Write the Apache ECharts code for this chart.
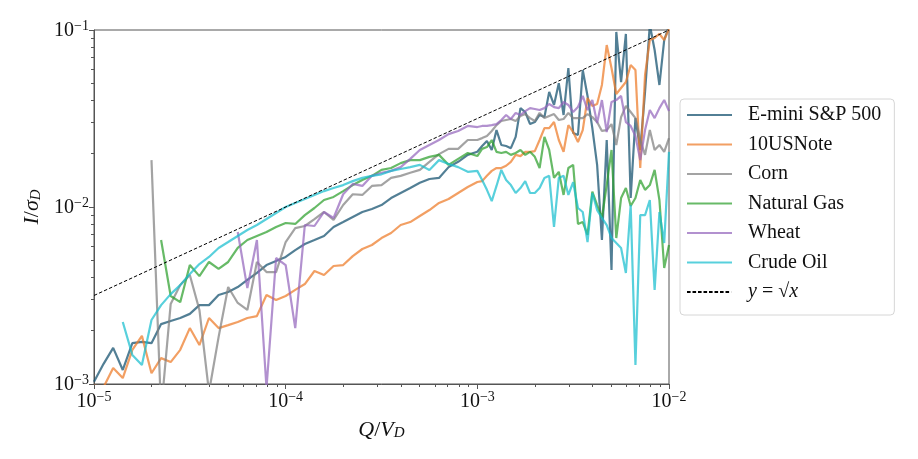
<!DOCTYPE html>
<html>
<head>
<meta charset="utf-8">
<script src="https://cdn.jsdelivr.net/npm/echarts@6/dist/echarts.min.js"></script>
<style>
  html, body { margin: 0; padding: 0; background: #fff; }
  #chart { width: 918px; height: 459px; }
</style>
</head>
<body>
<div id="chart"></div>
<script>
// Q/V_D bins (log spaced, finer above 1e-3)
const qGrid = [
  1.000e-5, 1.122e-5, 1.259e-5, 1.413e-5, 1.585e-5, 1.778e-5, 1.995e-5, 2.239e-5, 2.512e-5, 2.818e-5,
  3.162e-5, 3.548e-5, 3.981e-5, 4.467e-5, 5.012e-5, 5.623e-5, 6.310e-5, 7.079e-5, 7.943e-5, 8.913e-5,
  1.000e-4, 1.122e-4, 1.259e-4, 1.413e-4, 1.585e-4, 1.778e-4, 1.995e-4, 2.239e-4, 2.512e-4, 2.818e-4,
  3.162e-4, 3.548e-4, 3.981e-4, 4.467e-4, 5.012e-4, 5.623e-4, 6.310e-4, 7.079e-4, 7.943e-4, 8.913e-4,
  1.000e-3,
  1.059e-3, 1.122e-3, 1.189e-3, 1.259e-3, 1.334e-3, 1.413e-3, 1.496e-3, 1.585e-3, 1.679e-3, 1.778e-3,
  1.884e-3, 1.995e-3, 2.113e-3, 2.239e-3, 2.371e-3, 2.512e-3, 2.661e-3, 2.818e-3, 2.985e-3, 3.162e-3,
  3.350e-3, 3.548e-3, 3.758e-3, 3.981e-3, 4.217e-3, 4.467e-3, 4.732e-3, 5.012e-3, 5.309e-3, 5.623e-3,
  5.957e-3, 6.310e-3, 6.683e-3, 7.079e-3, 7.499e-3, 7.943e-3, 8.414e-3, 8.913e-3, 9.441e-3, 1.000e-2
]

const emini = [
  1.03e-3, 1.30e-3, 1.60e-3, 1.20e-3, 1.70e-3, 1.73e-3, 1.70e-3, 2.18e-3, 2.27e-3, 2.36e-3,
  2.49e-3, 2.79e-3, 2.79e-3, 3.18e-3, 3.31e-3, 3.53e-3, 3.87e-3, 4.24e-3, 4.70e-3, 4.95e-3,
  5.22e-3, 5.71e-3, 6.18e-3, 6.51e-3, 6.86e-3, 7.71e-3, 8.22e-3, 8.78e-3, 9.37e-3, 9.75e-3,
  1.026e-2, 1.124e-2, 1.20e-2, 1.28e-2, 1.37e-2, 1.44e-2, 1.46e-2, 1.68e-2, 1.80e-2, 1.97e-2,
  2.05e-2,
  2.21e-2, 2.36e-2, 2.10e-2, 2.72e-2, 2.24e-2, 2.21e-2, 2.15e-2, 2.49e-2, 3.62e-2, 3.44e-2,
  2.94e-2, 3.02e-2, 3.31e-2, 3.22e-2, 4.47e-2, 3.77e-2, 5.01e-2, 3.31e-2, 6.10e-2, 2.62e-2,
  2.55e-2, 5.94e-2, 4.24e-2, 2.79e-2, 1.73e-2, 6.51e-3, 2.39e-2, 4.41e-3, 9.75e-2, 5.08e-2,
  9.50e-2, 1.124e-2, 3.18e-2, 2.10e-2, 4.47e-2, 0.107, 7.71e-2, 4.89e-2, 8.78e-2, 0.105
]

const usNote = [
  9.8e-4, 9.6e-4, 1.23e-3, 1.08e-3, 1.56e-3, 1.87e-3, 1.15e-3, 1.40e-3, 1.33e-3, 1.56e-3,
  2.07e-3, 1.66e-3, 2.36e-3, 2.07e-3, 2.15e-3, 2.24e-3, 2.36e-3, 2.42e-3, 3.18e-3, 2.98e-3,
  3.14e-3, 3.40e-3, 3.67e-3, 4.35e-3, 4.13e-3, 4.64e-3, 4.70e-3, 5.28e-3, 5.79e-3, 6.10e-3,
  6.68e-3, 7.13e-3, 7.91e-3, 8.22e-3, 8.90e-3, 9.61e-3, 1.054e-2, 1.109e-2, 1.20e-2, 1.297e-2,
  1.384e-2,
  1.40e-2, 1.50e-2, 1.60e-2, 1.66e-2, 1.66e-2, 1.71e-2, 1.80e-2, 1.97e-2, 1.94e-2, 2.05e-2,
  2.05e-2, 2.07e-2, 2.39e-2, 2.79e-2, 2.79e-2, 3.02e-2, 2.39e-2, 2.05e-2, 2.90e-2, 2.65e-2,
  2.33e-2, 2.72e-2, 4.13e-2, 3.72e-2, 3.82e-2, 4.89e-2, 8.22e-2, 6.10e-2, 4.35e-2, 4.70e-2,
  5.08e-2, 6.34e-2, 5.94e-2, 1.66e-2, 5.57e-2, 8.78e-2, 9.02e-2, 9.50e-2, 8.78e-2, 0.1013
]

const corn = [
  null, null, null, null, null, null, 1.84e-2, 7.0e-4, 2.83e-3, 3.62e-3,
  4.13e-3, 2.62e-3, 9.0e-4, 1.84e-3, 3.53e-3, 2.87e-3, 2.62e-3, 4.89e-3, 4.29e-3, 4.29e-3,
  6.34e-3, 7.60e-3, 7.81e-3, 8.55e-3, 9.37e-3, 8.45e-3, 1.026e-2, 1.18e-2, 1.17e-2, 1.315e-2,
  1.33e-2, 1.46e-2, 1.50e-2, 1.56e-2, 1.62e-2, 1.80e-2, 1.99e-2, 2.13e-2, 2.13e-2, 2.39e-2,
  2.39e-2,
  2.45e-2, 2.52e-2, 2.69e-2, 2.90e-2, 3.06e-2, 3.10e-2, 3.14e-2, 3.06e-2, 3.27e-2, 3.35e-2,
  3.18e-2, 3.06e-2, 3.40e-2, 3.18e-2, 3.27e-2, 3.35e-2, 3.10e-2, 3.14e-2, 3.40e-2, 3.18e-2,
  3.18e-2, 3.18e-2, 3.35e-2, 3.22e-2, 3.02e-2, 2.69e-2, 2.72e-2, 2.94e-2, 2.24e-2, 3.22e-2,
  3.72e-2, 3.44e-2, 3.18e-2, 2.39e-2, 1.97e-2, 2.72e-2, 2.10e-2, 2.24e-2, 2.05e-2, 2.45e-2
]

const natGas = [
  null, null, null, null, null, null, null, 6.51e-3, 3.14e-3, 2.90e-3,
  4.70e-3, 4.07e-3, 4.89e-3, 4.47e-3, 4.89e-3, 5.87e-3, 6.51e-3, 6.86e-3, 7.22e-3, 7.71e-3,
  8.12e-3, 8.02e-3, 9.00e-3, 9.87e-3, 1.095e-2, 1.14e-2, 1.23e-2, 1.33e-2, 1.42e-2, 1.50e-2,
  1.62e-2, 1.66e-2, 1.77e-2, 1.84e-2, 1.84e-2, 1.92e-2, 1.97e-2, 1.73e-2, 1.87e-2, 2.02e-2,
  1.94e-2,
  2.13e-2, 2.18e-2, 2.39e-2, 2.05e-2, 2.02e-2, 2.05e-2, 1.97e-2, 2.02e-2, 2.10e-2, 1.97e-2,
  2.05e-2, 1.92e-2, 1.66e-2, 2.49e-2, 2.10e-2, 1.46e-2, 1.58e-2, 1.17e-2, 1.66e-2, 1.73e-2,
  8.02e-3, 8.22e-3, 6.95e-3, 1.22e-2, 1.026e-2, 8.67e-3, 1.33e-2, 2.10e-2, 6.68e-3, 1.124e-2,
  1.28e-2, 1.013e-2, 1.124e-2, 1.42e-2, 1.25e-2, 1.33e-2, 1.62e-2, 1.095e-2, 4.52e-3, 6.10e-3
]

const wheat = [
  null, null, null, null, null, null, null, null, null, null,
  null, null, null, null, null, 7.22e-3, 3.48e-3, 6.51e-3, 9.5e-4, 5.15e-3,
  4.70e-3, 2.07e-3, 7.91e-3, 7.81e-3, 9.37e-3, 8.67e-3, 1.18e-2, 1.35e-2, 1.315e-2, 1.50e-2,
  1.56e-2, 1.60e-2, 1.68e-2, 1.87e-2, 2.10e-2, 2.24e-2, 2.39e-2, 2.58e-2, 2.69e-2, 2.87e-2,
  2.83e-2,
  2.87e-2, 2.87e-2, 2.90e-2, 2.94e-2, 3.10e-2, 3.31e-2, 3.14e-2, 3.40e-2, 3.31e-2, 3.48e-2,
  3.62e-2, 3.58e-2, 3.53e-2, 3.62e-2, 3.82e-2, 3.67e-2, 3.62e-2, 3.92e-2, 3.77e-2, 3.44e-2,
  3.67e-2, 4.24e-2, 3.53e-2, 4.02e-2, 2.98e-2, 4.02e-2, 2.65e-2, 3.92e-2, 4.02e-2, 4.24e-2,
  3.02e-2, 2.87e-2, 2.52e-2, 1.84e-2, 2.72e-2, 3.53e-2, 3.18e-2, 3.62e-2, 4.02e-2, 3.48e-2
]

const crudeOil = [
  null, null, null, 2.24e-3, 1.46e-3, 1.28e-3, 2.30e-3, 2.79e-3, 3.22e-3, 3.62e-3,
  4.18e-3, 4.76e-3, 5.22e-3, 5.87e-3, 6.34e-3, 6.86e-3, 7.41e-3, 7.91e-3, 8.55e-3, 9.25e-3,
  1.00e-2, 1.054e-2, 1.109e-2, 1.17e-2, 1.23e-2, 1.28e-2, 1.33e-2, 1.40e-2, 1.46e-2, 1.50e-2,
  1.53e-2, 1.60e-2, 1.64e-2, 1.68e-2, 1.73e-2, 1.62e-2, 1.84e-2, 1.75e-2, 1.68e-2, 1.58e-2,
  1.60e-2,
  1.42e-2, 1.25e-2, 1.08e-2, 1.315e-2, 1.62e-2, 1.42e-2, 1.33e-2, 1.20e-2, 1.28e-2, 1.40e-2,
  1.20e-2, 1.20e-2, 1.28e-2, 1.46e-2, 1.50e-2, 7.71e-3, 1.46e-2, 1.50e-2, 1.17e-2, 1.38e-2,
  9.87e-3, 9.37e-3, 6.34e-3, 1.20e-2, 9.61e-3, 8.67e-3, 7.91e-3, 6.68e-3, 6.26e-3, 5.87e-3,
  4.24e-3, 1.026e-2, 1.28e-3, 9.00e-3, 9.00e-3, 1.095e-2, 3.40e-3, 9.37e-3, 6.26e-3, 2.05e-2
]

// reference line y = sqrt(x), end points
const sqrtLine = [[1e-5, 3.1623e-3], [1e-2, 0.1]]

const seriesNames = ['E-mini S&P 500', '10USNote', 'Corn', 'Natural Gas', 'Wheat', 'Crude Oil']
const refName = 'y = \u221Ax'
const seriesData = [emini, usNote, corn, natGas, wheat, crudeOil]
const seriesColors = [
  'rgba(22,82,112,0.74)',
  'rgba(238,125,45,0.74)',
  'rgba(127,127,127,0.72)',
  'rgba(44,160,44,0.72)',
  'rgba(148,103,189,0.72)',
  'rgba(23,190,207,0.72)'
]

const FONT = 'Liberation Serif'
const AXIS = '#555'
const INK = '#111'

// legend icons: solid bar and dashed bar
const solidIcon = 'path://M0,0h45v2h-45z'
const dashIcon = 'path://' + [0, 5.5, 11, 16.5, 22, 27.5, 33, 38.5].map(x => 'M' + x + ',0h3.6v1h-3.6z').join('') + 'M44.9,0h0.1v1h-0.1z'

const pairs = vals => qGrid.map((q, i) => [q, vals[i]]).filter(p => p[1] != null)

const powLabel = v => {
  const e = Math.round(Math.log10(v))
  return '{b|10}{s|\u2212' + (-e) + '}'
}
const powRich = {
  b: { fontSize: 20, fontFamily: FONT, color: INK, lineHeight: 22, verticalAlign: 'bottom' },
  s: { fontSize: 14, fontFamily: FONT, color: INK, lineHeight: 14, verticalAlign: 'top' }
}
const nameRich = {
  i: { fontSize: 22, fontFamily: FONT, fontStyle: 'italic', color: INK, lineHeight: 26, verticalAlign: 'bottom' },
  n: { fontSize: 22, fontFamily: FONT, color: INK, lineHeight: 26, verticalAlign: 'bottom' },
  d: { fontSize: 15, fontFamily: FONT, fontStyle: 'italic', color: INK, lineHeight: 19, verticalAlign: 'bottom' }
}

const chart = echarts.init(document.getElementById('chart'), null, { renderer: 'canvas' })

const series = seriesNames.map((name, i) => ({
  name,
  type: 'line',
  data: pairs(seriesData[i]),
  symbol: 'none',
  color: seriesColors[i],
  lineStyle: { width: 2.2, color: seriesColors[i] }
}))
series.push({
  name: refName,
  type: 'line',
  data: sqrtLine,
  symbol: 'none',
  color: '#000',
  lineStyle: { width: 1, color: '#000', type: [3.5, 2] }
})

const option = {
  backgroundColor: '#fff',
  animation: false,
  grid: {
    left: 94, right: 249, top: 30, bottom: 75,
    show: true, borderColor: AXIS, borderWidth: 1
  },
  xAxis: {
    type: 'log',
    logBase: 10,
    min: 1e-5,
    max: 1e-2,
    name: '{i|Q}{n|/}{i|V}{d|D}',
    nameLocation: 'middle',
    nameGap: 31,
    nameTextStyle: { rich: nameRich },
    axisLine: { show: true, lineStyle: { color: AXIS, width: 1 } },
    axisTick: { show: true, length: 5, lineStyle: { color: AXIS } },
    minorTick: { show: true, splitNumber: 9, length: 3, lineStyle: { color: AXIS } },
    splitLine: { show: false },
    axisLabel: { formatter: powLabel, rich: powRich, margin: 6 }
  },
  yAxis: {
    type: 'log',
    logBase: 10,
    min: 1e-3,
    max: 1e-1,
    name: '{i|I}{n|/}{i|\u03C3}{d|D}',
    nameLocation: 'middle',
    nameGap: 49,
    nameRotate: 90,
    nameTextStyle: { rich: nameRich },
    axisLine: { show: true, lineStyle: { color: AXIS, width: 1 } },
    axisTick: { show: true, length: 5, lineStyle: { color: AXIS } },
    minorTick: { show: true, splitNumber: 9, length: 3, lineStyle: { color: AXIS } },
    splitLine: { show: false },
    axisLabel: { formatter: powLabel, rich: powRich, margin: 5 }
  },
  legend: {
    orient: 'vertical',
    left: 680,
    top: 99,
    padding: [5, 13, 12, 7],
    itemGap: 7.5,
    itemWidth: 45,
    itemHeight: 2,
    symbolKeepAspect: false,
    backgroundColor: '#fff',
    borderColor: '#d6d6d6',
    borderWidth: 1,
    borderRadius: 4,
    data: seriesNames.map(name => ({ name, icon: solidIcon }))
      .concat([{ name: refName, icon: dashIcon }]),
    formatter: name => name === refName ? '{i|y} = \u221A{i|x}' : name,
    textStyle: {
      fontSize: 20,
      fontFamily: FONT,
      color: INK,
      lineHeight: 22,
      padding: [0, 0, 0, 11],
      rich: {
        i: { fontSize: 20, fontFamily: FONT, fontStyle: 'italic', color: INK, lineHeight: 22 }
      }
    }
  },
  series
}

chart.setOption(option)
</script>
</body>
</html>
